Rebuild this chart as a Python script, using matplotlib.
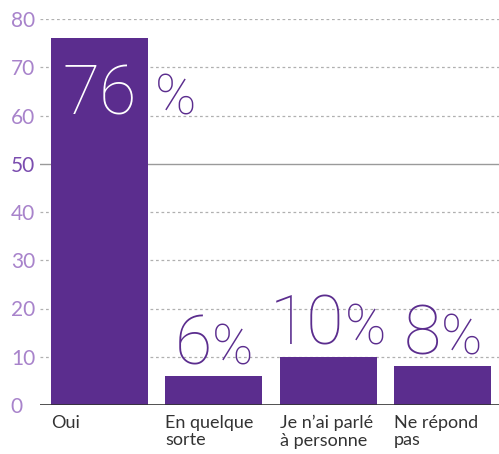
import matplotlib
matplotlib.use("Agg")
import matplotlib.pyplot as plt
import matplotlib.transforms as mtrans
import numpy as np

categories = ["Oui", "En quelque\nsorte", "Je n\u2019ai parlé\nà personne", "Ne répond\npas"]
values = [76, 6, 10, 8]
yticks = [0, 10, 20, 30, 40, 50, 60, 70, 80]

BAR = "#5B2D8E"
LAV = "#A883CB"
FONT = "Lato"
BIGFONT = "Roboto"

W, H, DPI = 4.99, 4.54, 100
fig = plt.figure(figsize=(W, H), dpi=DPI)
ax = fig.add_axes([40/499, 49/454, 459/499, 386/454])
ax.set_xlim(-0.52, 3.494)
ax.set_ylim(0, 80)

x = np.arange(len(values))
width = 0.848
ax.bar(x, values, width=width, color=BAR, zorder=3)

for s in ax.spines.values():
    s.set_visible(False)

for t in yticks:
    if t == 0:
        ax.axhline(t, color="#333333", lw=1.2, zorder=4)
    elif t == 50:
        ax.axhline(t, color="#9a9a9a", lw=1.0, zorder=1)
    else:
        ax.axhline(t, color="#b0b0b0", lw=0.9, ls=(0, (2.2, 2.2)), zorder=1)

ax.set_yticks(yticks)
ax.set_yticklabels([str(t) for t in yticks], fontfamily=FONT, fontsize=15,
                   fontweight="normal", ha="left")
for lab, t in zip(ax.get_yticklabels(), yticks):
    lab.set_color("#7B4DAF" if t == 50 else LAV)
ax.tick_params(axis="y", length=0, pad=21)

ax.set_xticks(x - width/2)
ax.set_xticklabels(categories, fontfamily=FONT, fontsize=13, color="#333333",
                   ha="left", va="top", linespacing=1.12)
ax.tick_params(axis="x", length=0, pad=7)

fig.canvas.draw()
renderer = fig.canvas.get_renderer()

def off(dx, dy):
    return ax.transData + mtrans.ScaledTranslation(dx/DPI, dy/DPI, fig.dpi_scale_trans)

for i, v in enumerate(values):
    if v > 40:
        ax.text(x[i], 60.3, str(v), transform=ax.transData, ha="center", va="baseline",
                fontfamily=BIGFONT, fontweight="light", fontsize=49, color="white", zorder=5)
        ax.text(x[i] + width/2, 60.3, "%", transform=off(7, 0), ha="left", va="baseline",
                fontfamily=BIGFONT, fontweight="light", fontsize=40, color=BAR, zorder=5)
    else:
        tn = ax.text(x[i], v, str(v), transform=off(0, 12), ha="left", va="baseline",
                     fontfamily=BIGFONT, fontweight="light", fontsize=49, color=BAR, zorder=5)
        tp = ax.text(x[i], v, "%", transform=off(0, 12), ha="left", va="baseline",
                     fontfamily=BIGFONT, fontweight="light", fontsize=40, color=BAR, zorder=5)
        wn = tn.get_window_extent(renderer).width
        wp = tp.get_window_extent(renderer).width
        gap = 0
        total = wn + gap + wp
        tn.set_transform(off(-total/2, 12))
        tp.set_transform(off(-total/2 + wn + gap, 12))

fig.savefig("out.png", dpi=DPI)
